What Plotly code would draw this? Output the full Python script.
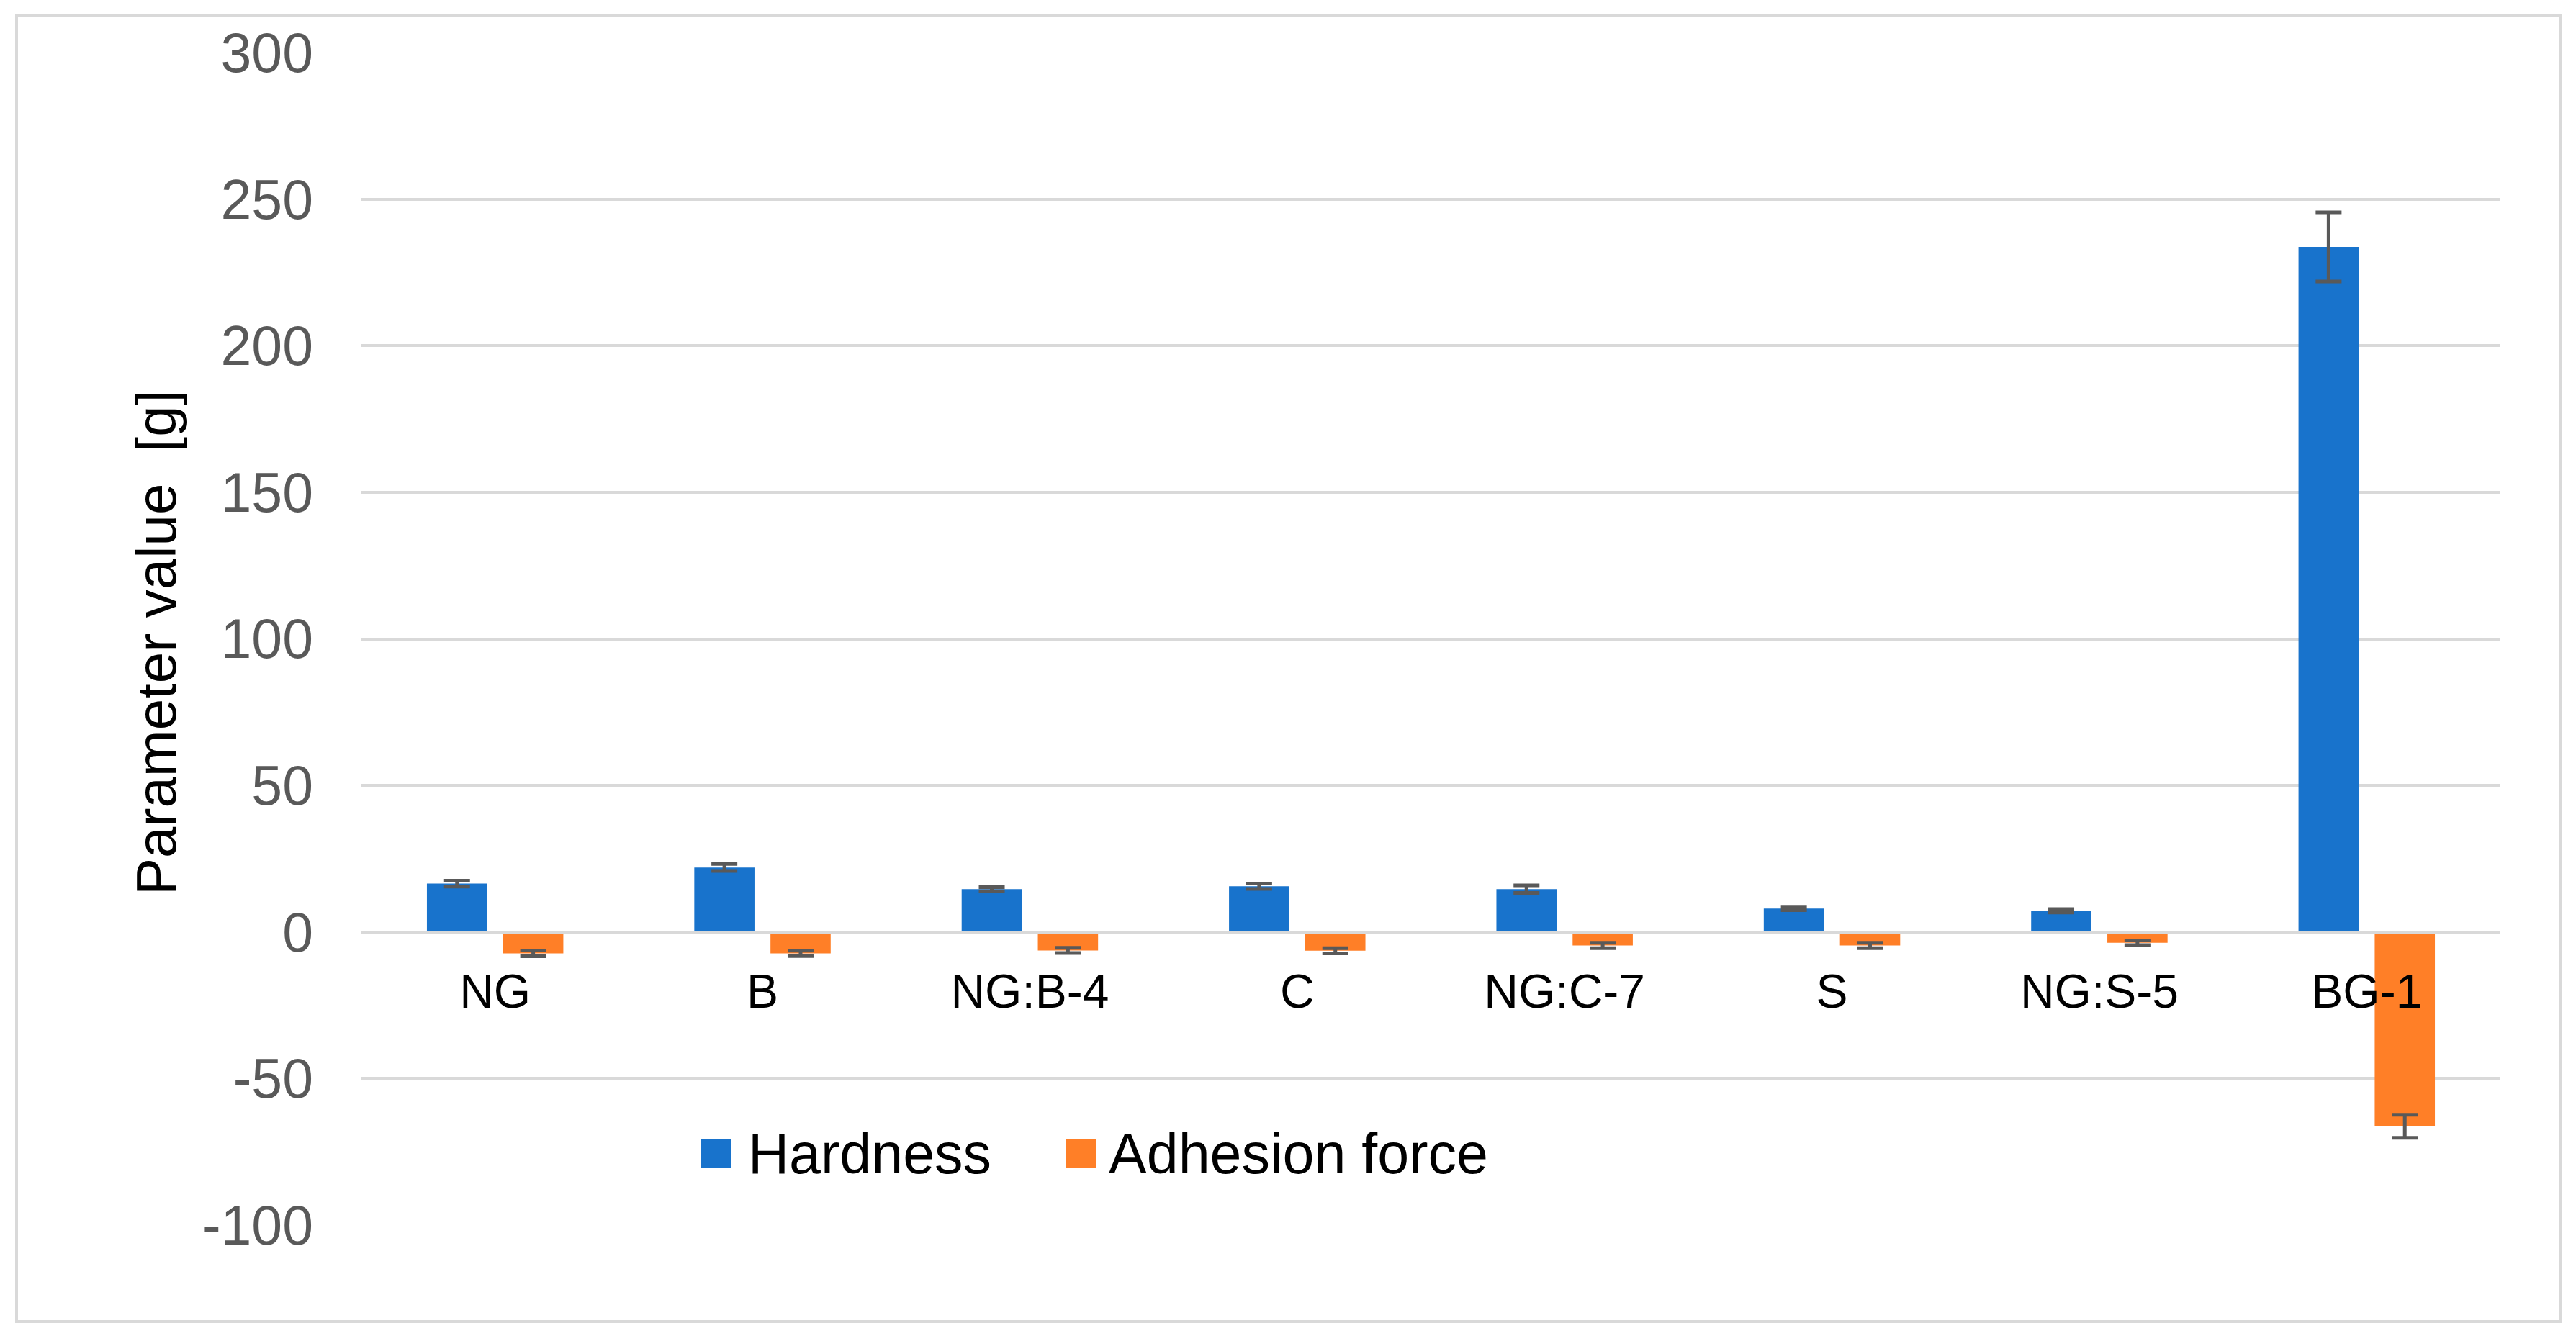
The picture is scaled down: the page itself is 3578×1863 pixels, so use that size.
import plotly.graph_objects as go

categories = ["NG", "B", "NG:B-4", "C", "NG:C-7", "S", "NG:S-5", "BG-1"]
series_names = ["Hardness", "Adhesion force"]
hardness = [16.5, 22.0, 14.6, 15.6, 14.6, 8.0, 7.2, 233.7]
hardness_err = [1.0, 1.2, 0.7, 0.9, 1.3, 0.6, 0.6, 11.8]
adhesion = [-7.3, -7.3, -6.3, -6.4, -4.6, -4.6, -3.7, -66.3]
adhesion_err = [1.0, 0.9, 0.9, 0.9, 0.9, 0.9, 0.8, 3.9]
y_ticks = [-100, -50, 0, 50, 100, 150, 200, 250, 300]
y_tick_labels = ["-100", "-50", "0", "50", "100", "150", "200", "250", "300"]

BLUE = "#1873CC"
ORANGE = "#FF7F27"
ERR = "#595959"
GRID = "#D9D9D9"
FONT = "Liberation Sans, Arial, sans-serif"

W, H = 3578, 1863
OFF = 8  # default page body margin
# plot area in screen pixels
PX0, PX1, PY0, PY1 = 502, 3473, 73, 1702
pw, ph = PX1 - PX0, PY1 - PY0
ml, mt = PX0 - OFF, PY0 - OFF
mr, mb = W - ml - pw, H - mt - ph

fig = go.Figure()
fig.add_trace(go.Bar(
    name=series_names[0], x=categories, y=hardness,
    marker=dict(color=BLUE, line=dict(width=0)),
    error_y=dict(type="data", array=hardness_err, color=ERR, thickness=5, width=18),
    showlegend=False,
))
fig.add_trace(go.Bar(
    name=series_names[1], x=categories, y=adhesion,
    marker=dict(color=ORANGE, line=dict(width=0)),
    error_y=dict(type="data", array=adhesion_err, color=ERR, thickness=5, width=18),
    showlegend=False,
))

def px_x(x):
    return (x - PX0) / pw

def px_y(y):
    return (PY1 - y) / ph

shapes = [
    dict(type="rect", xref="paper", yref="paper",
         x0=px_x(23), x1=px_x(3557), y0=px_y(1836), y1=px_y(22),
         line=dict(color=GRID, width=4), fillcolor="rgba(0,0,0,0)", layer="below"),
]
annotations = []
leg_items = [(series_names[0], BLUE, 974, 1037), (series_names[1], ORANGE, 1481, 1538)]
for name, col, sx, tx in leg_items:
    shapes.append(dict(type="rect", xref="paper", yref="paper",
                       x0=px_x(sx), x1=px_x(sx + 41), y0=px_y(1623), y1=px_y(1582),
                       line=dict(width=0), fillcolor=col))
    annotations.append(dict(xref="paper", yref="paper", x=px_x(tx), y=px_y(1602),
                            xanchor="left", yanchor="middle", showarrow=False,
                            text=name, font=dict(family=FONT, size=79, color="#000000")))
annotations.append(dict(xref="paper", yref="paper", x=px_x(217), y=px_y(893),
                        xanchor="center", yanchor="middle", showarrow=False,
                        textangle=-90, text="Parameter value\u00a0 [g]",
                        font=dict(family=FONT, size=78, color="#000000")))

fig.update_layout(
    width=W, height=H,
    margin=dict(l=ml, r=mr, t=mt, b=mb),
    paper_bgcolor="white", plot_bgcolor="white",
    barmode="group", bargap=0.43, bargroupgap=0.21,
    showlegend=False,
    shapes=shapes, annotations=annotations,
    font=dict(family=FONT),
    xaxis=dict(
        type="category", anchor="free", position=0.25,
        showline=True, linecolor=GRID, linewidth=4, layer="above traces",
        showgrid=False, ticks="", ticklabelstandoff=24,
        tickfont=dict(family=FONT, size=66, color="#000000"),
    ),
    yaxis=dict(
        range=[-100, 300], tickvals=y_ticks, ticktext=y_tick_labels,
        showgrid=True, gridcolor=GRID, gridwidth=4,
        zeroline=False, showline=False, ticks="", ticklabelstandoff=66,
        tickfont=dict(family=FONT, size=77, color="#595959"),
    ),
)

fig.write_html("out.html")
